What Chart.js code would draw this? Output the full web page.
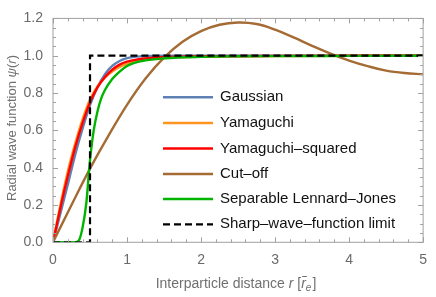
<!DOCTYPE html>
<html>
<head>
<meta charset="utf-8">
<script src="https://cdn.jsdelivr.net/npm/chart.js@4"></script>
<style>
html,body{margin:0;padding:0;background:#fff;}
#wrap{width:436px;height:297px;position:relative;}
</style>
</head>
<body>
<div id="wrap"><canvas id="c"></canvas></div>
<script>
// ---- data ----
const seriesLabels = ["Gaussian","Yamaguchi","Yamaguchi–squared","Cut–off","Separable Lennard–Jones","Sharp–wave–function limit"];

const rGauss   = [0,0.1,0.2,0.3,0.4,0.5,0.6,0.7,0.8,0.9,1.0,1.2,1.5,2,3,5];
const psiGauss = [0,0.155,0.31,0.47,0.61,0.735,0.83,0.9,0.945,0.972,0.987,0.997,1.0,1.0,1.0,1.0];

const rYama    = [0,0.1,0.2,0.3,0.4,0.5,0.6,0.7,0.8,0.9,1.0,1.2,1.5,2,3,5];
const psiYama  = [0,0.2,0.38,0.53,0.66,0.765,0.835,0.882,0.915,0.94,0.956,0.975,0.988,0.995,0.998,1.0];

const rYamaSq   = [0,0.1,0.2,0.3,0.4,0.5,0.6,0.7,0.8,0.9,1.0,1.2,1.5,2,3,5];
const psiYamaSq = [0,0.185,0.355,0.51,0.64,0.75,0.83,0.885,0.925,0.952,0.968,0.984,0.993,0.997,0.999,1.0];

const rCut   = [0,0.25,0.5,0.75,1.0,1.25,1.5,1.75,2.0,2.25,2.5,2.75,3.0,3.25,3.5,3.75,4.0,4.25,4.5,4.75,5.0];
const psiCut = [0,0.2,0.395,0.572,0.737,0.878,0.99,1.075,1.132,1.166,1.178,1.17,1.14,1.098,1.053,1.011,0.974,0.944,0.92,0.907,0.901];

const rLJ   = [0,0.3,0.35,0.4,0.45,0.5,0.55,0.6,0.65,0.7,0.8,0.9,1.0,1.1,1.25,1.5,2.0,2.5,3.0,4.0,5.0];
const psiLJ = [0,0,0.01,0.08,0.21,0.44,0.6,0.7,0.77,0.815,0.875,0.915,0.945,0.962,0.975,0.986,0.994,0.997,0.998,0.999,1.0];

const rSharp   = [0,0.5,0.5,5];
const psiSharp = [0,0,1,1];

const xMajor = [0,1,2,3,4,5];
const yMajor = [0,0.2,0.4,0.6,0.8,1.0,1.2];

const colors = ["#5E81B5","#FF9420","#FF0000","#A56B34","#00B400","#000000"];

function pts(xs, ys){ return xs.map((x,i)=>({x:x,y:ys[i]})); }

const allR = [rGauss,rYama,rYamaSq,rCut,rLJ,rSharp];
const allP = [psiGauss,psiYama,psiYamaSq,psiCut,psiLJ,psiSharp];

const datasets = seriesLabels.map((lab,i)=>{
  const d = {
    label: lab,
    data: pts(allR[i], allP[i]),
    borderColor: colors[i],
    backgroundColor: colors[i],
    borderWidth: i===5 ? 2.2 : 2.4,
    borderDash: i===5 ? [7,4] : [],
    pointRadius: 0,
    fill: false,
    order: 5 - i
  };
  if (i===5) { d.tension = 0; }
  else if (i===3) { d.tension = 0.4; }
  else { d.cubicInterpolationMode = 'monotone'; }
  return d;
});

const FONT = '"Liberation Sans", Arial, sans-serif';

const framePlugin = {
  id: 'frame',
  afterDraw(chart){
    const ctx = chart.ctx, a = chart.chartArea;
    const xs = chart.scales.x, ys = chart.scales.y;
    ctx.save();
    ctx.strokeStyle = '#a0a0a0';
    ctx.lineWidth = 1;
    ctx.strokeRect(a.left, a.top, a.right - a.left, a.bottom - a.top);
    function tick(x1,y1,x2,y2){ ctx.beginPath(); ctx.moveTo(x1,y1); ctx.lineTo(x2,y2); ctx.stroke(); }
    for (let k=0;k<=25;k++){
      const v = k*0.2;
      const px = Math.round(xs.getPixelForValue(v))+0.5;
      const L = (k%5===0) ? 5 : 3;
      tick(px, a.bottom, px, a.bottom - L);
      tick(px, a.top, px, a.top + L);
    }
    for (let k=0;k<=24;k++){
      const v = k*0.05;
      const py = Math.round(ys.getPixelForValue(v))+0.5;
      const L = (k%4===0) ? 5 : 3;
      tick(a.left, py, a.left + L, py);
      tick(a.right, py, a.right - L, py);
    }
    ctx.restore();

    // y title
    ctx.save();
    ctx.fillStyle = '#707070';
    ctx.textBaseline = 'middle';
    const fy = 13;
    const yN = fy + 'px ' + FONT, yI = 'italic ' + fy + 'px ' + FONT;
    const yParts = [["Radial wave function ", yN],["ψ", yI],["(", yN],["r", yI],[")", yN]];
    let tw = 0; yParts.forEach(p=>{ctx.font=p[1]; tw += ctx.measureText(p[0]).width;});
    ctx.translate(12, 128);
    ctx.rotate(-Math.PI/2);
    let cx = -tw/2;
    ctx.textAlign = 'left';
    yParts.forEach(p=>{ctx.font=p[1]; ctx.fillText(p[0], cx, 0); cx += ctx.measureText(p[0]).width;});
    ctx.restore();

    // x title
    ctx.save();
    const fs = 14;
    const fN = fs + 'px ' + FONT, fI = 'italic ' + fs + 'px ' + FONT;
    ctx.fillStyle = '#707070';
    ctx.textBaseline = 'alphabetic';
    ctx.textAlign = 'left';
    const base = 288;
    const p1 = "Interparticle distance ";
    ctx.font = fN; const w1 = ctx.measureText(p1).width;
    ctx.font = fI; const wr = ctx.measureText("r").width;
    ctx.font = fN; const wsp = ctx.measureText(" [").width;
    ctx.font = fI; const wr2 = ctx.measureText("r").width;
    ctx.font = 'italic 10px ' + FONT; const we = ctx.measureText("e").width;
    ctx.font = fN; const wb = ctx.measureText("]").width;
    const total = w1 + wr + wsp + wr2 + we + 1 + wb;
    let x0 = 236 - total/2;
    ctx.font = fN; ctx.fillText(p1, x0, base); x0 += w1;
    ctx.font = fI; ctx.fillText("r", x0, base); x0 += wr;
    ctx.font = fN; ctx.fillText(" [", x0, base); x0 += wsp;
    ctx.font = fI; ctx.fillText("r", x0, base);
    ctx.strokeStyle = '#707070'; ctx.lineWidth = 1;
    ctx.beginPath(); ctx.moveTo(x0+1, base-11.5); ctx.lineTo(x0+wr2+1, base-11.5); ctx.stroke();
    x0 += wr2;
    ctx.font = 'italic 10px ' + FONT; ctx.fillText("e", x0, base+3); x0 += we + 1;
    ctx.font = fN; ctx.fillText("]", x0, base);
    ctx.restore();

    // legend
    ctx.save();
    const rows = [97.3,123,148.5,174,199,224.3];
    chart.data.datasets.forEach((ds,i)=>{
      const y = rows[i];
      ctx.strokeStyle = ds.borderColor;
      ctx.lineWidth = ds.borderWidth;
      ctx.setLineDash(ds.borderDash || []);
      ctx.beginPath(); ctx.moveTo(163, y); ctx.lineTo(213, y); ctx.stroke();
      ctx.setLineDash([]);
      ctx.fillStyle = '#111';
      ctx.font = '15px ' + FONT;
      ctx.textBaseline = 'middle';
      ctx.textAlign = 'left';
      ctx.fillText(ds.label, 220, y);
    });
    ctx.restore();
  }
};

new Chart(document.getElementById('c'), {
  type: 'line',
  data: { datasets: datasets },
  options: {
    responsive: true,
    maintainAspectRatio: false,
    animation: false,
    layout: { padding: { left: 0, right: 5, top: 9.5, bottom: 0 } },
    plugins: { legend: { display: false }, tooltip: { enabled: false }, title: { display: false } },
    scales: {
      x: {
        type: 'linear', min: 0, max: 5,
        afterBuildTicks: s => { s.ticks = xMajor.map(v=>({value:v})); },
        afterFit: s => { s.height = 54.7; },
        grid: { display: false, drawTicks: false },
        border: { display: false },
        ticks: { padding: 9, color: '#6a6a6a', font: { family: FONT, size: 14 }, callback: v => String(v) }
      },
      y: {
        type: 'linear', min: 0, max: 1.2,
        afterBuildTicks: s => { s.ticks = yMajor.map(v=>({value:v})); },
        afterFit: s => { s.width = 53; },
        grid: { display: false, drawTicks: false },
        border: { display: false },
        ticks: { padding: 10, color: '#6a6a6a', font: { family: FONT, size: 14 }, callback: v => v.toFixed(1) }
      }
    }
  },
  plugins: [framePlugin]
});
</script>
</body>
</html>
